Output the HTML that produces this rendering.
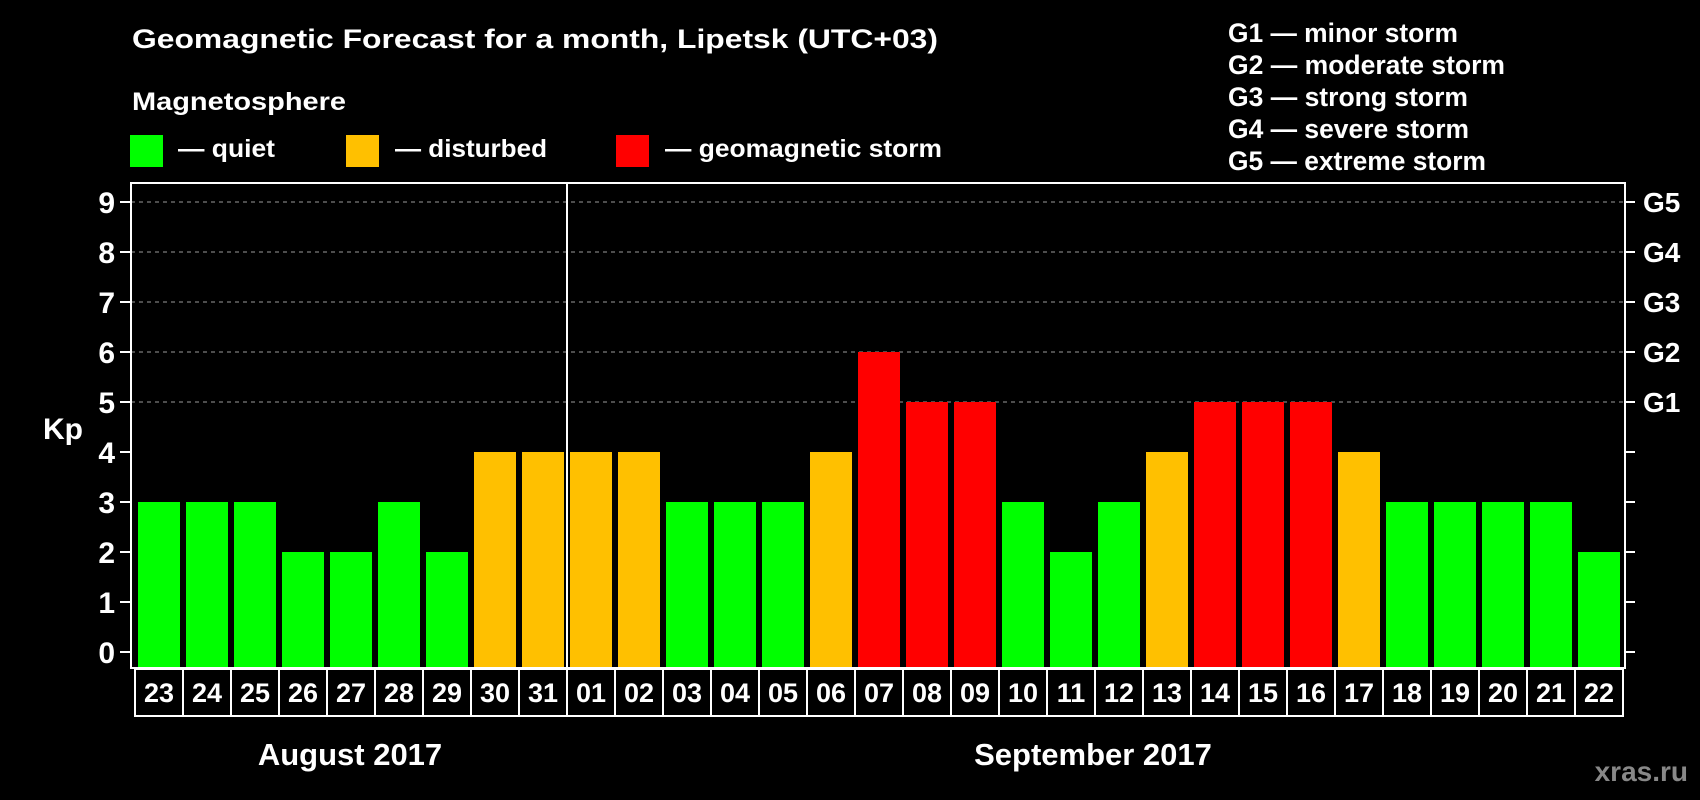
<!DOCTYPE html>
<html><head><meta charset="utf-8"><style>
html,body{margin:0;padding:0;background:#000;}
svg{display:block;font-family:"Liberation Sans",Arial,sans-serif;font-weight:bold;}
</style></head><body>
<svg id="chart" width="1700" height="800" viewBox="0 0 1700 800" xmlns="http://www.w3.org/2000/svg">
<rect x="0" y="0" width="1700" height="800" fill="#000"/>
<text x="132" y="48" font-size="27" fill="#fff" textLength="806" lengthAdjust="spacingAndGlyphs">Geomagnetic Forecast for a month, Lipetsk (UTC+03)</text>
<text x="132" y="110" font-size="25" fill="#fff" textLength="214" lengthAdjust="spacingAndGlyphs">Magnetosphere</text>
<g>
<rect x="130" y="135" width="33" height="32" fill="#00ff00"/>
<text x="178" y="157" font-size="25" fill="#fff" textLength="97" lengthAdjust="spacingAndGlyphs">— quiet</text></g>
<g>
<rect x="346" y="135" width="33" height="32" fill="#ffc000"/>
<text x="395" y="157" font-size="25" fill="#fff" textLength="152" lengthAdjust="spacingAndGlyphs">— disturbed</text></g>
<g>
<rect x="616" y="135" width="33" height="32" fill="#ff0000"/>
<text x="665" y="157" font-size="25" fill="#fff" textLength="277" lengthAdjust="spacingAndGlyphs">— geomagnetic storm</text></g>
<g font-size="26.5" fill="#fff">
<text x="1228" y="42" textLength="230" lengthAdjust="spacingAndGlyphs">G1 — minor storm</text>
<text x="1228" y="74" textLength="277" lengthAdjust="spacingAndGlyphs">G2 — moderate storm</text>
<text x="1228" y="106" textLength="240" lengthAdjust="spacingAndGlyphs">G3 — strong storm</text>
<text x="1228" y="138" textLength="241" lengthAdjust="spacingAndGlyphs">G4 — severe storm</text>
<text x="1228" y="170" textLength="258" lengthAdjust="spacingAndGlyphs">G5 — extreme storm</text>
</g>
<text x="43" y="439" font-size="30" fill="#fff">Kp</text>
<g id="grid"></g><g id="bars"></g><g id="axes"></g>
<text x="350" y="765" font-size="31" fill="#fff" text-anchor="middle">August 2017</text>
<text x="1093" y="765" font-size="31" fill="#fff" text-anchor="middle">September 2017</text>
<text x="1688" y="781" font-size="28" fill="#888" text-anchor="end">xras.ru</text>
</svg>
<script>
const days = ["23","24","25","26","27","28","29","30","31","01","02","03","04","05","06","07","08","09","10","11","12","13","14","15","16","17","18","19","20","21","22"];
const kpValues = [3,3,3,2,2,3,2,4,4,4,4,3,3,3,4,6,5,5,3,2,3,4,5,5,5,4,3,3,3,3,2];
const yTicks = [0,1,2,3,4,5,6,7,8,9];
const gLabels = ["G1","G2","G3","G4","G5"];
const gLevels = [5,6,7,8,9];
const monthBreakIndex = 9;

const NS="http://www.w3.org/2000/svg";
const FL=131, FR=1625, FT=183, FB=668;
const CX0=135, CW=48;
function y(v){return 652 - v*50;}
function x(i){return CX0 + i*CW;}
function mk(t,a,p){const e=document.createElementNS(NS,t);for(const k in a)e.setAttribute(k,a[k]);p.appendChild(e);return e;}
function color(v){return v>=5?"#ff0000":(v>=4?"#ffc000":"#00ff00");}
const grid=document.getElementById('grid'), bars=document.getElementById('bars'), axes=document.getElementById('axes');
gLevels.forEach((lv,i)=>{
  const l=mk('line',{x1:FL,x2:FR,y1:y(lv),y2:y(lv),stroke:'#9a9a9a','stroke-width':1,'stroke-dasharray':'4,4'},grid);
  
  
});
kpValues.forEach((v,i)=>{
  const r=mk('rect',{x:x(i)+3,y:y(v),width:42,height:FB-y(v),fill:color(v)},bars);
  
  
});
const fr=mk('rect',{x:FL,y:FT,width:FR-FL,height:FB-FT,fill:'none',stroke:'#fff','stroke-width':2},axes);


yTicks.forEach(t=>{
  const a=mk('line',{x1:120,x2:FL,y1:y(t),y2:y(t),stroke:'#fff','stroke-width':2},axes);
  
  
  const b=mk('line',{x1:FR,x2:1635,y1:y(t),y2:y(t),stroke:'#fff','stroke-width':2},axes);
  
  
  const tx=mk('text',{x:115,y:y(t)+11,'font-size':30,fill:'#fff','text-anchor':'end'},axes);
  tx.textContent=t;
  
  
});
gLabels.forEach((g,i)=>{
  const tx=mk('text',{x:1643,y:y(gLevels[i])+10,'font-size':28,fill:'#fff'},axes);
  tx.textContent=g;
  
  
});
days.forEach((d,i)=>{
  const c=mk('rect',{x:x(i),y:669,width:CW,height:47,fill:'none',stroke:'#fff','stroke-width':2},axes);
  
  
  const tx=mk('text',{x:x(i)+CW/2,y:702,'font-size':27,fill:'#fff','text-anchor':'middle'},axes);
  tx.textContent=d;
  
  
});
const ml=mk('line',{x1:x(monthBreakIndex),x2:x(monthBreakIndex),y1:FT,y2:716,stroke:'#fff','stroke-width':2},axes);


</script>
</body></html>
